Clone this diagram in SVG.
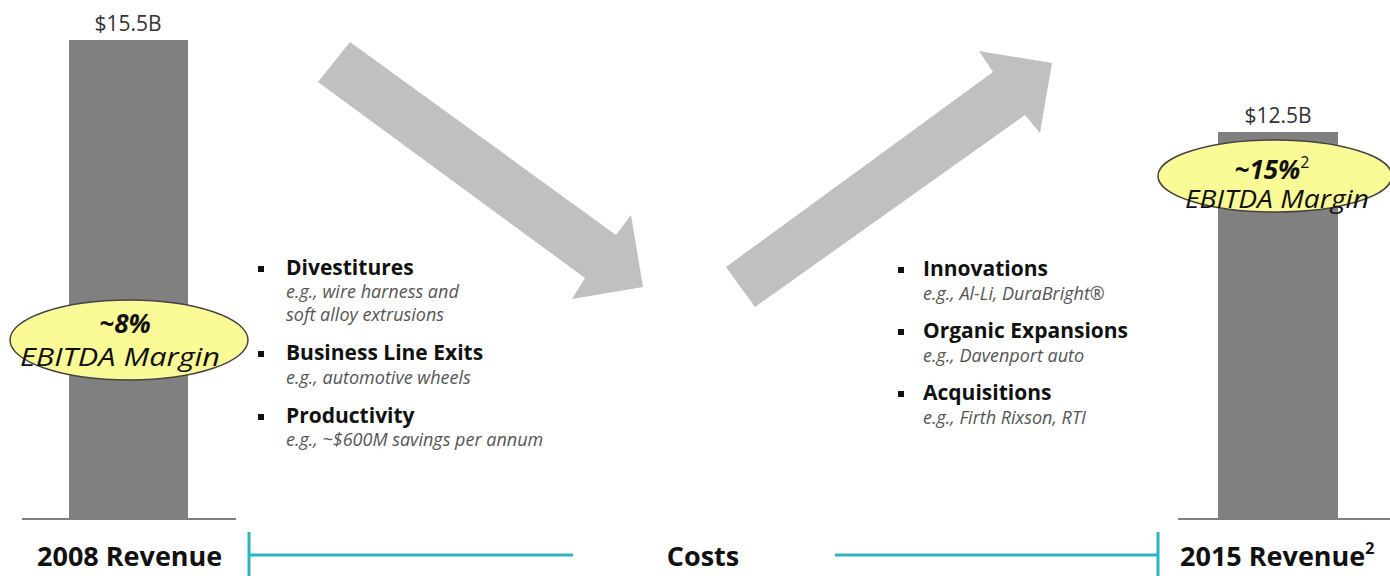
<svg xmlns="http://www.w3.org/2000/svg" width="1390" height="576" viewBox="0 0 1390 576">
<style>
.t{font-family:"Open Sans","Noto Sans","Liberation Sans",sans-serif;}
.val{font-size:21px;fill:#333;text-anchor:middle;}
.bar{fill:#808080;}
.base{stroke:#808080;stroke-width:2;}
.arr{fill:#c0c0c0;}
.ell{fill:#fafa96;stroke:#444;stroke-width:1.5;}
.pct{font-size:26px;font-weight:bold;font-style:italic;fill:#111;text-anchor:middle;}
.mar{font-size:26px;font-style:italic;fill:#111;text-anchor:middle;}
.hd{font-size:21px;font-weight:bold;fill:#111;}
.sub{font-size:18px;font-style:italic;fill:#555;}
.bul{fill:#111;}
.lab{font-size:27px;font-weight:bold;fill:#111;}
.tl{stroke:#2bb5c0;stroke-width:3;fill:none;}
</style>
<g id="arrows">
<polygon class="arr" points="350,42 616,235 631,215 643,287 572,299 585,278 318,82"/>
<polygon class="arr" points="726,267 993,72 979,51 1052,63 1040,133 1025,115 755,307"/>
</g>
<g id="bar2008">
<line class="base" x1="22" y1="519" x2="236" y2="519"/>
<rect class="bar" x="69" y="40" width="119" height="479"/>
<text class="t val" x="128" y="31">$15.5B</text>
</g>
<g id="bar2015">
<line class="base" x1="1178" y1="519" x2="1390" y2="519"/>
<rect class="bar" x="1218" y="132" width="120" height="387"/>
<text class="t val" x="1278" y="123">$12.5B</text>
</g>
<g id="margin2008">
<ellipse class="ell" cx="129" cy="340" rx="119" ry="40"/>
<text class="t pct" x="125" y="333">~8%</text>
<text class="t mar" x="120" y="366" textLength="200" lengthAdjust="spacingAndGlyphs">EBITDA Margin</text>
</g>
<g id="margin2015">
<ellipse class="ell" cx="1275" cy="176" rx="117" ry="36"/>
<text class="t pct" x="1272" y="179">~15%<tspan font-size="16" font-weight="normal" font-style="normal" dy="-11">2</tspan></text>
<text class="t mar" x="1277" y="208" font-size="25" textLength="184" lengthAdjust="spacingAndGlyphs">EBITDA Margin</text>
</g>
<g id="costs-down">
<rect class="bul" x="258" y="266" width="6" height="6"/>
<text class="t hd" x="286" y="275">Divestitures</text>
<text class="t sub" x="286" y="298">e.g., wire harness and</text>
<text class="t sub" x="286" y="321">soft alloy extrusions</text>
<rect class="bul" x="258" y="351" width="6" height="6"/>
<text class="t hd" x="286" y="360">Business Line Exits</text>
<text class="t sub" x="286" y="384">e.g., automotive wheels</text>
<rect class="bul" x="258" y="414" width="6" height="6"/>
<text class="t hd" x="286" y="423">Productivity</text>
<text class="t sub" x="286" y="446">e.g., ~$600M savings per annum</text>
</g>
<g id="growth-up">
<rect class="bul" x="898" y="267" width="6" height="6"/>
<text class="t hd" x="923" y="276">Innovations</text>
<text class="t sub" x="923" y="300">e.g., Al-Li, DuraBright®</text>
<rect class="bul" x="898" y="329" width="6" height="6"/>
<text class="t hd" x="923" y="338">Organic Expansions</text>
<text class="t sub" x="923" y="362">e.g., Davenport auto</text>
<rect class="bul" x="898" y="391" width="6" height="6"/>
<text class="t hd" x="923" y="400">Acquisitions</text>
<text class="t sub" x="923" y="424">e.g., Firth Rixson, RTI</text>
</g>
<g id="connectors">
<path class="tl" d="M249,532 V576 M249,555 H573"/>
<path class="tl" d="M835,555 H1158 M1158,532 V576"/>
</g>
<g id="labels">
<text class="t lab" x="37" y="566">2008 Revenue</text>
<text class="t lab" x="703" y="566" text-anchor="middle">Costs</text>
<text class="t lab" x="1180" y="566">2015 Revenue<tspan font-size="16" dy="-12">2</tspan></text>
</g>
</svg>
